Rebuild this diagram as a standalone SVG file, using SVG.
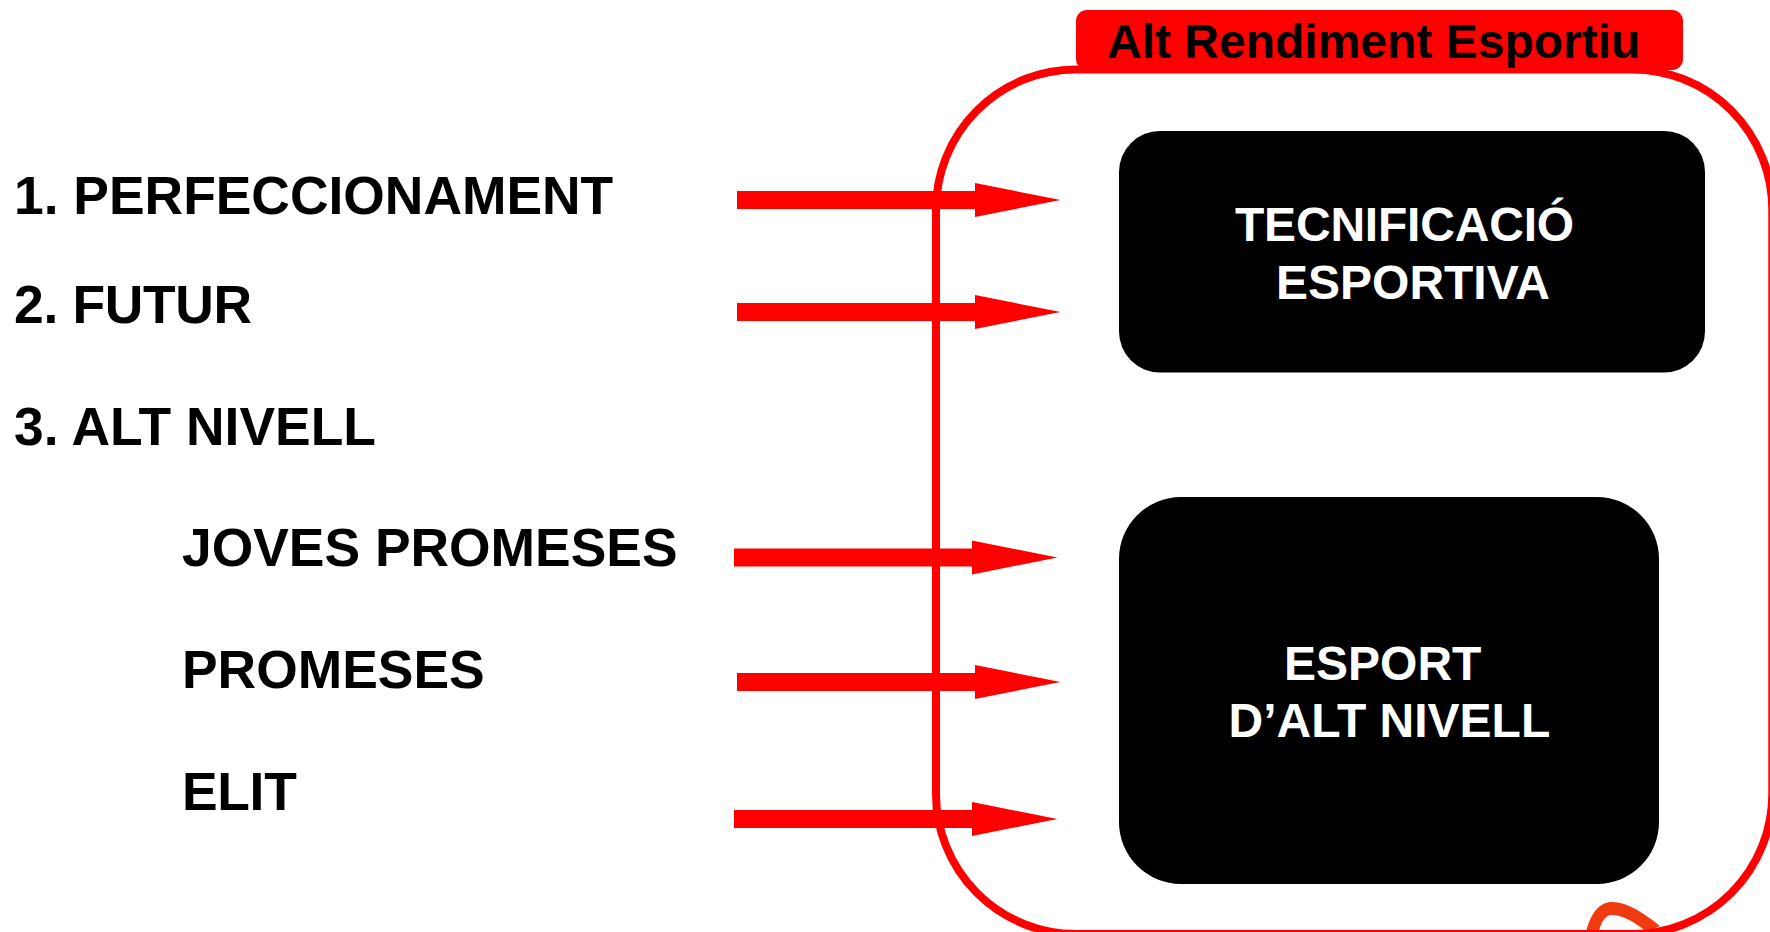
<svg xmlns="http://www.w3.org/2000/svg" width="1770" height="932" viewBox="0 0 1770 932">
<style>
text{font-family:"Liberation Sans",Arial,sans-serif;font-weight:700}
.l{font-size:53.400px;fill:#000}
.w{font-size:48px;fill:#fff}
.b{fill:#000}
</style>
<defs><path id="a" fill="#f00" d="M0-9H238V-17L323.500 0 238 17V9H0Z"/></defs>
<rect width="1770" height="932" fill="#fff"/>
<path d="M1586 932C1591 912 1600 902 1612 902C1628 902 1645 914 1660 926L1647 932C1635 922 1622 915 1612 915C1606 915 1601 921 1599 932Z" fill="#f03a10"/>
<g id="frame"><rect x="936" y="69.500" width="836.300" height="864.500" rx="140" ry="140" fill="none" stroke="#f00" stroke-width="8"/></g>
<g id="title"><rect x="1076" y="10" width="607" height="60" rx="11" fill="#f00"/><text x="1107" y="58" font-size="48">Alt Rendiment Esportiu</text></g>
<g id="tecnificacio"><rect class="b" x="1119" y="131" width="586" height="241.500" rx="41"/><text class="w" x="1235" y="241" letter-spacing="-.2">TECNIFICACIÓ</text><text class="w" x="1276" y="299">ESPORTIVA</text></g>
<g id="alt-nivell"><rect class="b" x="1119" y="497" width="540" height="387" rx="62"/><text class="w" x="1284" y="680">ESPORT</text><text class="w" x="1228.500" y="737">D’ALT NIVELL</text></g>
<g id="labels"><text class="l" x="14" y="214">1. PERFECCIONAMENT</text><text class="l" x="14" y="322.500" letter-spacing="-.3">2. FUTUR</text><text class="l" x="14" y="444.500">3. ALT NIVELL</text><text class="l" x="182" y="566">JOVES PROMESES</text><text class="l" x="182" y="688">PROMESES</text><text class="l" x="182" y="809.500" letter-spacing="-.3">ELIT</text></g>
<g id="connectors"><use href="#a" x="737" y="200"/><use href="#a" x="737" y="312"/><use href="#a" x="734" y="557.500"/><use href="#a" x="737" y="682"/><use href="#a" x="734" y="819"/></g>
</svg>
